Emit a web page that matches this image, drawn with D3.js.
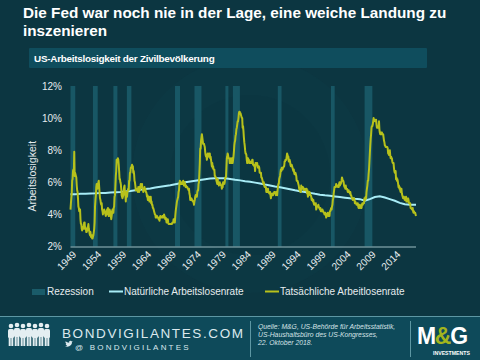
<!DOCTYPE html>
<html><head><meta charset="utf-8">
<script src="https://cdn.jsdelivr.net/npm/d3@7"></script>
<style>
html,body{margin:0;padding:0;background:#0c3641;}
svg{display:block;font-family:"Liberation Sans",Arial,sans-serif;}
</style></head>
<body>
<svg id="chart" width="480" height="360"></svg>
<script>
// ---------- DATA ----------
const titleLines = ["Die Fed war noch nie in der Lage, eine weiche Landung zu", "inszenieren"];
const subtitle = "US-Arbeitslosigkeit der Zivilbevölkerung";
const yAxisTitle = "Arbeitslosigkeit";
const yTicks = [2, 4, 6, 8, 10, 12];
const yTickLabels = ["2%", "4%", "6%", "8%", "10%", "12%"];
const xTicks = [1949, 1954, 1959, 1964, 1969, 1974, 1979, 1984, 1989, 1994, 1999, 2004, 2009, 2014];
const legendLabels = ["Rezession", "Natürliche Arbeitslosenrate", "Tatsächliche Arbeitlosenrate"];
const sourceLines = ["Quelle: M&G, US-Behörde für Arbeitsstatistik,", "US-Haushaltsbüro des US-Kongresses,", "22. Oktober 2018."];

// recession periods (decimal years)
const recessionStart = [1949.0, 1953.5, 1957.6, 1960.3, 1969.95, 1973.85, 1980.05, 1981.55, 1990.55, 2001.2, 2007.95];
const recessionEnd   = [1949.95, 1954.45, 1958.4, 1961.2, 1970.95, 1975.25, 1980.65, 1982.95, 1991.3, 2001.95, 2009.5];

// natural rate of unemployment (yearly)
const naturalYears = [1949,1950,1951,1952,1953,1954,1955,1956,1957,1958,1959,1960,1961,1962,1963,1964,1965,1966,1967,1968,1969,
  1970,1971,1972,1973,1974,1975,1976,1977,1978,1979,1980,1981,1982,1983,1984,1985,1986,1987,1988,1989,
  1990,1991,1992,1993,1994,1995,1996,1997,1998,1999,2000,2001,2002,2003,2004,2005,2006,2007,2008,2009,
  2010,2011,2012,2013,2014,2015,2016,2017,2018,2018.25];
const naturalRate = [5.25,5.26,5.28,5.29,5.30,5.31,5.33,5.34,5.36,5.38,5.40,5.43,5.46,5.50,5.54,5.58,5.62,5.67,5.72,5.77,5.82,
  5.88,5.94,6.00,6.05,6.10,6.15,6.19,6.23,6.25,6.26,6.25,6.21,6.16,6.12,6.07,6.03,5.98,5.93,5.86,5.80,
  5.74,5.69,5.63,5.57,5.50,5.44,5.39,5.34,5.28,5.23,5.19,5.16,5.12,5.08,5.04,5.00,4.97,4.95,4.85,4.95,
  5.08,5.13,5.05,4.95,4.85,4.72,4.63,4.60,4.60,4.60];

// actual unemployment rate, monthly from Jan 1949
const actualStartYear = 1949;
const actualRate = [
  4.3,4.7,5.0,5.3,6.1,6.2,6.7,6.8,6.6,7.9,6.4,6.6, // 1949
  6.5,6.4,6.3,5.8,5.5,5.4,5.0,4.5,4.4,4.2,4.2,4.3, // 1950
  3.7,3.4,3.4,3.1,3.0,3.2,3.1,3.1,3.3,3.5,3.5,3.1, // 1951
  3.2,3.1,2.9,2.9,3.0,3.0,3.2,3.4,3.1,3.0,2.8,2.7, // 1952
  2.9,2.6,2.6,2.7,2.5,2.5,2.6,2.7,2.9,3.1,3.5,4.5, // 1953
  4.9,5.2,5.7,5.9,5.9,5.6,5.8,6.0,6.1,5.7,5.3,5.0, // 1954
  4.9,4.7,4.6,4.7,4.3,4.2,4.0,4.2,4.1,4.3,4.2,4.2, // 1955
  4.0,3.9,4.2,4.0,4.3,4.3,4.4,4.1,3.9,3.9,4.3,4.2, // 1956
  4.2,3.9,3.7,3.9,4.1,4.3,4.2,4.1,4.4,4.5,5.1,5.2, // 1957
  5.8,6.4,6.7,7.4,7.4,7.3,7.5,7.4,7.1,6.7,6.2,6.2, // 1958
  6.0,5.9,5.6,5.2,5.1,5.0,5.1,5.2,5.5,5.7,5.8,5.3, // 1959
  5.2,4.8,5.4,5.2,5.1,5.4,5.5,5.6,5.5,6.1,6.1,6.6, // 1960
  6.6,6.9,6.9,7.0,7.1,6.9,7.0,6.6,6.7,6.5,6.1,6.0, // 1961
  5.8,5.5,5.6,5.6,5.5,5.5,5.4,5.7,5.6,5.4,5.7,5.5, // 1962
  5.7,5.9,5.7,5.7,5.9,5.6,5.6,5.4,5.5,5.5,5.7,5.5, // 1963
  5.6,5.4,5.4,5.3,5.1,5.2,4.9,5.0,5.1,5.1,4.8,5.0, // 1964
  4.9,5.1,4.7,4.8,4.6,4.6,4.4,4.4,4.3,4.2,4.1,4.0, // 1965
  4.0,3.8,3.8,3.8,3.9,3.8,3.8,3.8,3.7,3.7,3.6,3.8, // 1966
  3.9,3.8,3.8,3.8,3.8,3.9,3.8,3.8,3.8,4.0,3.9,3.8, // 1967
  3.7,3.8,3.7,3.5,3.5,3.7,3.7,3.5,3.4,3.4,3.4,3.4, // 1968
  3.4,3.4,3.4,3.4,3.4,3.5,3.5,3.5,3.7,3.7,3.5,3.5, // 1969
  3.9,4.2,4.4,4.6,4.8,4.9,5.0,5.1,5.4,5.5,5.9,6.1, // 1970
  5.9,5.9,6.0,5.9,5.9,5.9,6.0,6.1,6.0,5.8,6.0,6.0, // 1971
  5.8,5.7,5.8,5.7,5.7,5.7,5.6,5.6,5.5,5.6,5.3,5.2, // 1972
  4.9,5.0,4.9,5.0,4.9,4.9,4.8,4.8,4.8,4.6,4.8,4.9, // 1973
  5.1,5.2,5.1,5.1,5.1,5.4,5.5,5.5,5.9,6.0,6.6,7.2, // 1974
  8.1,8.1,8.6,8.8,9.0,8.8,8.6,8.4,8.4,8.4,8.3,8.2, // 1975
  7.9,7.7,7.6,7.7,7.4,7.6,7.8,7.8,7.6,7.7,7.8,7.8, // 1976
  7.5,7.6,7.4,7.2,7.0,7.2,6.9,7.0,6.8,6.8,6.8,6.4, // 1977
  6.4,6.3,6.3,6.1,6.0,5.9,6.2,5.9,6.0,5.8,5.9,6.0, // 1978
  5.9,5.9,5.8,5.8,5.6,5.7,5.7,6.0,5.9,6.0,5.9,6.0, // 1979
  6.3,6.3,6.3,6.9,7.5,7.6,7.8,7.7,7.5,7.5,7.5,7.2, // 1980
  7.5,7.4,7.4,7.2,7.5,7.5,7.2,7.4,7.6,7.9,8.3,8.5, // 1981
  8.6,8.9,9.0,9.3,9.4,9.6,9.8,9.8,10.0,10.3,10.4,10.4, // 1982
  10.3,10.3,10.2,10.1,10.0,10.0,9.4,9.5,9.2,8.8,8.5,8.3, // 1983
  8.0,7.8,7.8,7.7,7.4,7.2,7.5,7.5,7.3,7.4,7.2,7.3, // 1984
  7.3,7.2,7.2,7.3,7.2,7.4,7.4,7.1,7.1,7.1,7.0,7.0, // 1985
  6.7,7.2,7.2,7.1,7.2,7.2,7.0,6.9,7.0,7.0,6.9,6.6, // 1986
  6.6,6.6,6.6,6.3,6.3,6.2,6.1,6.0,5.9,6.0,5.8,5.7, // 1987
  5.7,5.7,5.7,5.4,5.6,5.4,5.4,5.6,5.4,5.4,5.3,5.3, // 1988
  5.4,5.2,5.0,5.2,5.2,5.3,5.2,5.2,5.3,5.3,5.4,5.4, // 1989
  5.4,5.3,5.2,5.4,5.4,5.2,5.5,5.7,5.9,5.9,6.2,6.3, // 1990
  6.4,6.6,6.8,6.7,6.9,6.9,6.8,6.9,6.9,7.0,7.0,7.3, // 1991
  7.3,7.4,7.4,7.4,7.6,7.8,7.7,7.6,7.6,7.3,7.4,7.4, // 1992
  7.3,7.1,7.0,7.1,7.1,7.0,6.9,6.8,6.7,6.8,6.6,6.5, // 1993
  6.6,6.6,6.5,6.4,6.1,6.1,6.1,6.0,5.9,5.8,5.6,5.5, // 1994
  5.6,5.4,5.4,5.8,5.6,5.6,5.7,5.7,5.6,5.5,5.6,5.6, // 1995
  5.6,5.5,5.5,5.6,5.6,5.3,5.5,5.1,5.2,5.2,5.4,5.4, // 1996
  5.3,5.2,5.2,5.1,4.9,5.0,4.9,4.8,4.9,4.7,4.6,4.7, // 1997
  4.6,4.6,4.7,4.3,4.4,4.5,4.5,4.5,4.6,4.5,4.4,4.4, // 1998
  4.3,4.4,4.2,4.3,4.2,4.3,4.3,4.2,4.2,4.1,4.1,4.0, // 1999
  4.0,4.1,4.0,3.8,4.0,4.0,4.0,4.1,3.9,3.9,3.9,3.9, // 2000
  4.2,4.2,4.3,4.4,4.3,4.5,4.6,4.9,5.0,5.3,5.5,5.7, // 2001
  5.7,5.7,5.7,5.9,5.8,5.8,5.8,5.7,5.7,5.7,5.9,6.0, // 2002
  5.8,5.9,5.9,6.0,6.1,6.3,6.2,6.1,6.1,6.0,5.8,5.7, // 2003
  5.7,5.6,5.8,5.6,5.6,5.6,5.5,5.4,5.4,5.5,5.4,5.4, // 2004
  5.3,5.4,5.2,5.2,5.1,5.0,5.0,4.9,5.0,5.0,5.0,4.9, // 2005
  4.7,4.8,4.7,4.7,4.6,4.6,4.7,4.7,4.5,4.4,4.5,4.4, // 2006
  4.6,4.5,4.4,4.5,4.4,4.6,4.7,4.6,4.7,4.7,4.7,5.0, // 2007
  5.0,4.9,5.1,5.0,5.4,5.6,5.8,6.1,6.1,6.5,6.8,7.3, // 2008
  7.8,8.3,8.7,9.0,9.4,9.5,9.5,9.6,9.8,10.0,9.9,9.9, // 2009
  9.8,9.8,9.9,9.9,9.6,9.4,9.4,9.5,9.5,9.4,9.8,9.3, // 2010
  9.1,9.0,9.0,9.1,9.0,9.1,9.0,9.0,9.0,8.8,8.6,8.5, // 2011
  8.3,8.3,8.2,8.2,8.2,8.2,8.2,8.1,7.8,7.8,7.7,7.9, // 2012
  8.0,7.7,7.5,7.6,7.5,7.5,7.3,7.2,7.2,7.2,6.9,6.7, // 2013
  6.6,6.7,6.7,6.2,6.3,6.1,6.2,6.1,5.9,5.7,5.8,5.6, // 2014
  5.7,5.5,5.4,5.4,5.6,5.3,5.2,5.1,5.0,5.0,5.1,5.0, // 2015
  4.9,4.9,5.0,5.1,4.8,4.9,4.8,4.9,5.0,4.9,4.7,4.7, // 2016
  4.7,4.7,4.4,4.4,4.4,4.3,4.3,4.4,4.2,4.1,4.2,4.1, // 2017
  4.1,4.1,4.0,3.9                                  // 2018
];

// ---------- CHART ----------
const svg = d3.select("#chart");
const W = 480, H = 360;

// background
svg.append("rect").attr("width", W).attr("height", H).attr("fill", "#0c3641");
// faint watermark shapes
svg.append("circle").attr("cx", 250).attr("cy", 175).attr("r", 118)
  .attr("fill", "#0e3b47").attr("opacity", 0.35);
svg.append("circle").attr("cx", 250).attr("cy", 175).attr("r", 80)
  .attr("fill", "#0b333e").attr("opacity", 0.35);

// title
const title = svg.append("text").attr("fill", "#ffffff").attr("font-weight", "bold").attr("font-size", 15.3);
titleLines.forEach((t, i) => title.append("tspan").attr("x", 23).attr("y", 18 + i * 17.5).text(t));

// subtitle box
svg.append("rect").attr("x", 29).attr("y", 48).attr("width", 398).attr("height", 20).attr("rx", 1).attr("fill", "#0f4d5d");
svg.append("text").attr("x", 34).attr("y", 61.5).attr("fill", "#ffffff").attr("font-weight", "bold")
  .attr("font-size", 9.9).attr("letter-spacing", -0.25).text(subtitle);

const x = d3.scaleLinear().domain([1949, 2018.25]).range([70.5, 416]);
const y = d3.scaleLinear().domain([2, 12]).range([246.5, 86]);

// recession bands
svg.append("g").selectAll("rect").data(recessionStart.map((s, i) => [s, recessionEnd[i]]))
  .join("rect")
  .attr("x", d => x(d[0])).attr("width", d => x(d[1]) - x(d[0]))
  .attr("y", y(12)).attr("height", y(2) - y(12))
  .attr("fill", "#1a5b69").attr("opacity", 0.9);

// y axis tick labels
svg.append("g").selectAll("text").data(yTicks).join("text")
  .attr("x", 62).attr("y", d => y(d)).attr("dy", "0.35em")
  .attr("text-anchor", "end").attr("fill", "#e6ecee").attr("font-size", 10)
  .text((d, i) => yTickLabels[i]);

// y axis title
svg.append("text").attr("transform", `translate(36,${(y(2) + y(12)) / 2 + 10}) rotate(-90)`)
  .attr("text-anchor", "middle").attr("fill", "#e6ecee").attr("font-size", 10.5).text(yAxisTitle);

// x axis line
svg.append("line").attr("x1", x(1949)).attr("x2", x(2018.25)).attr("y1", y(2) + 0.5).attr("y2", y(2) + 0.5)
  .attr("stroke", "#9dbdc4").attr("stroke-width", 1.2);

// x tick labels
svg.append("g").selectAll("text").data(xTicks).join("text")
  .attr("transform", d => `translate(${x(d) + 4},${y(2) + 6}) rotate(-45)`)
  .attr("text-anchor", "end").attr("dy", "0.35em")
  .attr("fill", "#e6ecee").attr("font-size", 10).text(d => d);

// natural rate line
const natData = naturalYears.map((yr, i) => [yr, naturalRate[i]]);
svg.append("path").datum(natData)
  .attr("d", d3.line().x(d => x(d[0])).y(d => y(d[1])))
  .attr("fill", "none").attr("stroke", "#a8ecf6").attr("stroke-width", 2);

// actual rate line
const actData = actualRate.map((v, i) => [actualStartYear + i / 12, v]);
svg.append("path").datum(actData)
  .attr("d", d3.line().x(d => x(d[0])).y(d => y(d[1])))
  .attr("fill", "none").attr("stroke", "#b7c11b").attr("stroke-width", 2).attr("stroke-linejoin", "round");

// legend
const lg = svg.append("g").attr("font-size", 10).attr("fill", "#e6ecee");
lg.append("rect").attr("x", 32).attr("y", 289).attr("width", 13).attr("height", 6).attr("fill", "#1a5b69");
lg.append("text").attr("x", 47).attr("y", 295).text(legendLabels[0]);
lg.append("line").attr("x1", 109).attr("x2", 123).attr("y1", 291.5).attr("y2", 291.5).attr("stroke", "#a8ecf6").attr("stroke-width", 2);
lg.append("text").attr("x", 124).attr("y", 295).text(legendLabels[1]);
lg.append("line").attr("x1", 265).attr("x2", 279).attr("y1", 291.5).attr("y2", 291.5).attr("stroke", "#b7c11b").attr("stroke-width", 2);
lg.append("text").attr("x", 280).attr("y", 295).text(legendLabels[2]);

// footer
svg.append("rect").attr("x", 0).attr("y", 317).attr("width", W).attr("height", 43).attr("fill", "#0e4a5a");
svg.append("line").attr("x1", 0).attr("x2", W).attr("y1", 316.5).attr("y2", 316.5).attr("stroke", "#5d97a3").attr("stroke-width", 1);

// silhouettes
const people = [[11, 0], [17, -1], [23, 0], [29, -1], [35, 0], [41, -1], [47, 0]];
const pg = svg.append("g").attr("fill", "#e4eef1");
people.forEach(([px, dy]) => {
  pg.append("circle").attr("cx", px).attr("cy", 326 + dy).attr("r", 2.3);
  pg.append("rect").attr("x", px - 3).attr("y", 329 + dy).attr("width", 6).attr("height", 9).attr("rx", 1.5);
  pg.append("rect").attr("x", px - 2.3).attr("y", 337 + dy).attr("width", 2).attr("height", 9 - dy);
  pg.append("rect").attr("x", px + 0.3).attr("y", 337 + dy).attr("width", 2).attr("height", 9 - dy);
});

svg.append("text").attr("x", 62).attr("y", 338).attr("fill", "#dbe9ee").attr("font-size", 13.5)
  .attr("letter-spacing", 1.6).text("BONDVIGILANTES.COM");
// twitter bird (simple)
svg.append("path").attr("d", "M65,346 q3,2 6,-1 q1,-1 1,-3 l1.2,-0.8 l-1.3,0.2 q-1,-1.2 -2.3,-0.3 q-0.8,0.7 -0.4,1.6 q-2.4,0 -3.6,-1.4 q-0.6,1.5 0.8,2.6 l-0.8,0 q0.3,1.3 1.6,1.6 q-1,0.6 -2.2,0.5 z")
  .attr("fill", "#dbe9ee");
svg.append("text").attr("x", 75).attr("y", 349.5).attr("fill", "#dbe9ee").attr("font-size", 8)
  .attr("letter-spacing", 2.2).text("@ BONDVIGILANTES");

svg.append("line").attr("x1", 250.5).attr("x2", 250.5).attr("y1", 321).attr("y2", 357).attr("stroke", "#5d97a3");
svg.append("line").attr("x1", 410.5).attr("x2", 410.5).attr("y1", 321).attr("y2", 357).attr("stroke", "#5d97a3");

const src = svg.append("text").attr("fill", "#d6e3e7").attr("font-size", 6.8).attr("font-style", "italic");
sourceLines.forEach((t, i) => src.append("tspan").attr("x", 258).attr("y", 329 + i * 7.8).text(t));

// M&G logo
const logo = svg.append("text").attr("x", 417).attr("y", 344).attr("font-size", 23).attr("font-weight", "bold").attr("letter-spacing", -1.3);
logo.append("tspan").attr("fill", "#ffffff").text("M");
logo.append("tspan").attr("fill", "#a3b51d").text("&");
logo.append("tspan").attr("fill", "#ffffff").text("G");
svg.append("text").attr("x", 433).attr("y", 355).attr("font-size", 5.2).attr("font-weight", "bold")
  .attr("fill", "#ffffff").text("INVESTMENTS");
</script>
</body></html>
